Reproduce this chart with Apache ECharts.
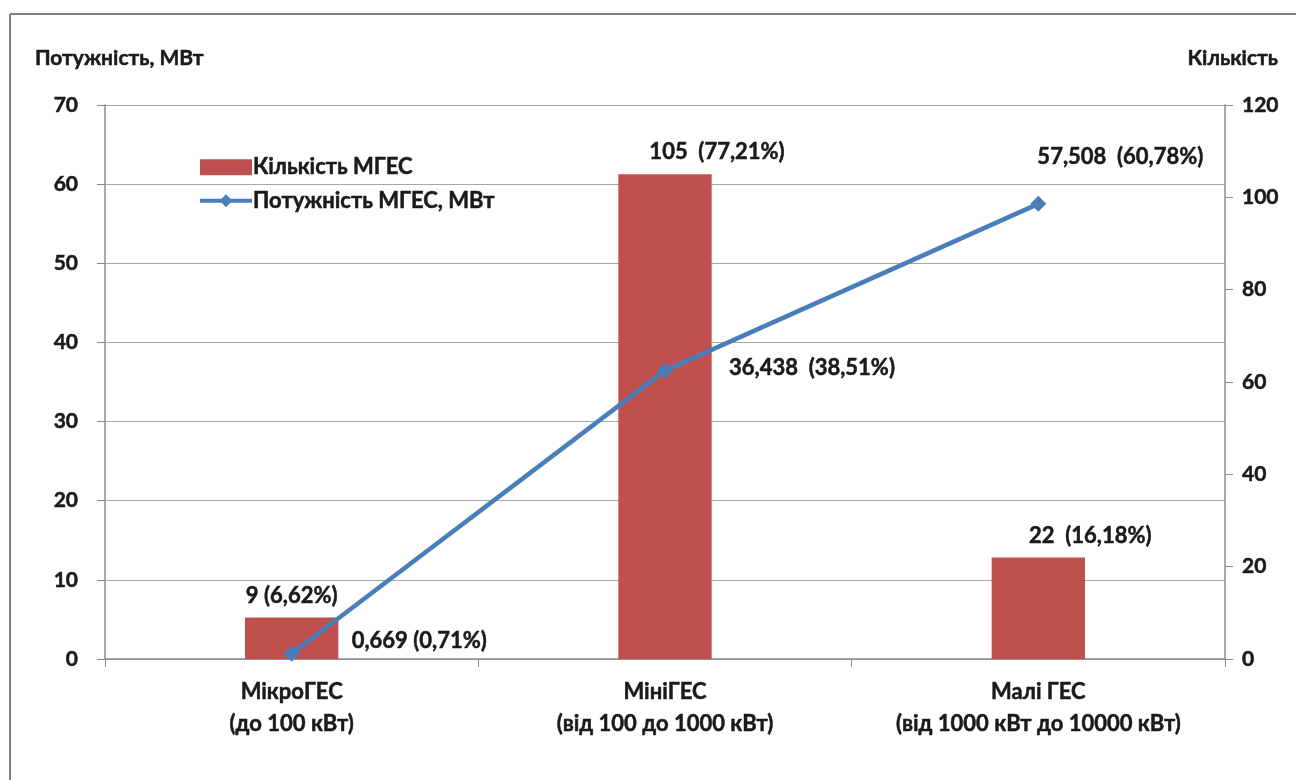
<!DOCTYPE html>
<html>
<head>
<meta charset="utf-8">
<script src="https://cdn.jsdelivr.net/npm/echarts@6/dist/echarts.min.js"></script>
<style>
  html, body { margin: 0; padding: 0; background: #fff; }
  #chart { width: 1296px; height: 780px; }
</style>
</head>
<body>
<div id="chart"></div>
<script>
// Categories of small hydro power plants
const categories = [
  'МікроГЕС\n(до 100 кВт)',
  'МініГЕС\n(від 100 до 1000 кВт)',
  'Малі ГЕС\n(від 1000 кВт до 10000 кВт)'
];
// Number of plants (right axis) and their share
const countValues = [9, 105, 22];
const countShares = ['6,62%', '77,21%', '16,18%'];
// Installed power, MW (left axis) and its share
const powerValues = [0.669, 36.438, 57.508];
const powerLabels = ['0,669', '36,438', '57,508'];
const powerShares = ['0,71%', '38,51%', '60,78%'];

const FONT = 'Lato, "Open Sans", sans-serif';
const TXT = '#1a1a1a';
const AXIS = '#8c8c8c';
const LINE_COLOR = '#4A7EBB';

// Bold text style shared by all labels
function txt(size) {
  return {
    fontFamily: FONT, fontSize: size, fontWeight: 'bold', color: TXT,
    textBorderColor: TXT, textBorderWidth: 0.5
  };
}

const chart = echarts.init(document.getElementById('chart'));

// Per-point label placement
const barLabelOffsets = [[0, 0], [52, 0], [52, 0]];
const barLabelSep = [' ', '  ', '  '];
const lineLabelPos = ['right', 'right', 'top'];
const lineLabelDist = [52, 56, 28];
const lineLabelOffsets = [[0, -13], [0, -3], [82, 0]];

chart.setOption({
  animation: false,
  textStyle: { fontFamily: FONT },
  grid: { left: 105, right: 71, top: 105, bottom: 121, containLabel: false },
  graphic: [
    { type: 'line', shape: { x1: 10, y1: 14, x2: 1296, y2: 14 }, style: { stroke: '#7f7f7f', lineWidth: 2 } },
    { type: 'line', shape: { x1: 10, y1: 14, x2: 10, y2: 780 }, style: { stroke: '#7f7f7f', lineWidth: 2 } }
  ],
  legend: {
    orient: 'vertical',
    left: 193,
    top: 151,
    itemWidth: 52,
    itemHeight: 16,
    itemGap: 11,
    textStyle: Object.assign(txt(22), { padding: [0, 0, 0, -4] }),
    data: [
      { name: 'Кількість МГЕС', icon: 'rect' },
      { name: 'Потужність МГЕС, МВт', lineStyle: { width: 4, color: LINE_COLOR } }
    ]
  },
  xAxis: {
    type: 'category',
    data: categories,
    axisLine: { lineStyle: { color: AXIS, width: 1.5 } },
    axisTick: { show: true, length: 8, lineStyle: { color: AXIS } },
    axisLabel: Object.assign(txt(22), { margin: 17, lineHeight: 32 }),
    splitLine: { show: false }
  },
  yAxis: [
    {
      type: 'value',
      min: 0, max: 70, interval: 10,
      name: 'Потужність, МВт',
      nameLocation: 'end',
      nameGap: 36,
      nameTextStyle: Object.assign(txt(21), { align: 'left', padding: [0, 0, 0, -70] }),
      axisLine: { show: true, lineStyle: { color: AXIS, width: 1.5 } },
      axisTick: { show: true, length: 8, lineStyle: { color: AXIS } },
      axisLabel: Object.assign(txt(21), { margin: 27 }),
      splitLine: { show: true, lineStyle: { color: '#a6a6a6', width: 1.2 } }
    },
    {
      type: 'value',
      min: 0, max: 120, interval: 20,
      name: 'Кількість',
      nameLocation: 'end',
      nameGap: 36,
      nameTextStyle: Object.assign(txt(21), { align: 'right', padding: [0, -53, 0, 0] }),
      axisLine: { show: true, lineStyle: { color: AXIS, width: 1.5 } },
      axisTick: { show: true, length: 8, lineStyle: { color: AXIS } },
      axisLabel: Object.assign(txt(21), { margin: 17 }),
      splitLine: { show: false }
    }
  ],
  series: [
    {
      name: 'Кількість МГЕС',
      type: 'bar',
      yAxisIndex: 1,
      barWidth: '25%',
      itemStyle: { color: '#C0504D' },
      data: countValues.map((v, i) => ({
        value: v,
        label: Object.assign(txt(22), {
          show: true,
          position: 'top',
          distance: 11,
          offset: barLabelOffsets[i],
          formatter: v + barLabelSep[i] + '(' + countShares[i] + ')'
        })
      })),
      z: 2
    },
    {
      name: 'Потужність МГЕС, МВт',
      type: 'line',
      yAxisIndex: 0,
      symbol: 'diamond',
      symbolSize: 16,
      lineStyle: { color: LINE_COLOR, width: 4.5 },
      itemStyle: { color: LINE_COLOR },
      data: powerValues.map((v, i) => ({
        value: v,
        label: Object.assign(txt(22), {
          show: true,
          position: lineLabelPos[i],
          distance: lineLabelDist[i],
          offset: lineLabelOffsets[i],
          formatter: powerLabels[i] + (i === 0 ? ' ' : '  ') + '(' + powerShares[i] + ')'
        })
      })),
      z: 3
    }
  ]
});
</script>
</body>
</html>
